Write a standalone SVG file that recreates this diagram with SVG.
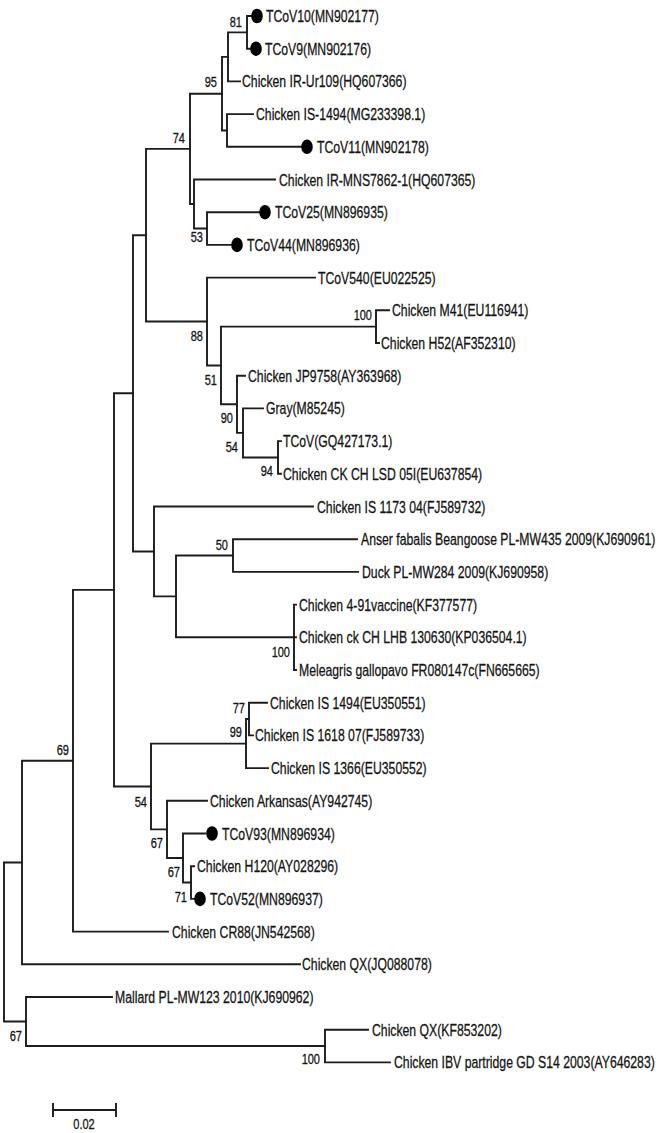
<svg xmlns="http://www.w3.org/2000/svg" width="663" height="1133" viewBox="0 0 663 1133">
<style>
.br{fill:none;stroke:#1c1c1c;stroke-width:1.9;stroke-linecap:square}
.lbl{font-family:"Liberation Sans",Arial,sans-serif;font-size:17px;fill:#141414;stroke:#141414;stroke-width:0.3}
.bs{font-family:"Liberation Sans",Arial,sans-serif;font-size:14.5px;fill:#141414;stroke:#141414;stroke-width:0.3;text-anchor:end}
.sc{font-family:"Liberation Sans",Arial,sans-serif;font-size:14.5px;fill:#141414;stroke:#141414;stroke-width:0.3;text-anchor:middle}
.dot{fill:#000}
</style>
<rect width="663" height="1133" fill="#fff"/>
<g id="connectors">
<path class="br" d="M4,862.5V1021.5M4,862.5H22M4,1021.5H26"/>
<path class="br" d="M22,760.75V964.3M22,760.75H73M22,964.3H300"/>
<path class="br" d="M73,589.9V931.6M73,589.9H114M73,931.6H168"/>
<path class="br" d="M114,393.3V786.5M114,393.3H133M114,786.5H151"/>
<path class="br" d="M133,235.2V551.45M133,235.2H146M133,551.45H154"/>
<path class="br" d="M146,148.85V321.55M146,148.85H190M146,321.55H207"/>
<path class="br" d="M190,93.7V204M190,93.7H222M190,204H194"/>
<path class="br" d="M222,56.9V130.45M222,56.9H228M222,130.45H227"/>
<path class="br" d="M228,32.35V81.4M228,32.35H247M228,81.4H240"/>
<path class="br" d="M247,16V48.7M247,16H251M247,48.7H251"/>
<path class="br" d="M227,114.1V146.8M227,114.1H253M227,146.8H301"/>
<path class="br" d="M194,179.5V228.55M194,179.5H275M194,228.55H207"/>
<path class="br" d="M207,212.2V244.9M207,212.2H259M207,244.9H231"/>
<path class="br" d="M207,277.6V365.5M207,277.6H315M207,365.5H221"/>
<path class="br" d="M221,326.65V404.3M221,326.65H376M221,404.3H237"/>
<path class="br" d="M376,310.3V343M376,310.3H389M376,343H379"/>
<path class="br" d="M237,375.7V432.9M237,375.7H245M237,432.9H243"/>
<path class="br" d="M243,408.4V457.45M243,408.4H263M243,457.45H278"/>
<path class="br" d="M278,441.1V473.8M278,441.1H281M278,473.8H281"/>
<path class="br" d="M154,506.5V596.4M154,506.5H313M154,596.4H176"/>
<path class="br" d="M176,555.55V637.3M176,555.55H233M176,637.3H294"/>
<path class="br" d="M233,539.2V571.9M233,539.2H357M233,571.9H358"/>
<path class="br" d="M294,604.6V670M294,604.6H296M294,637.3H296M294,670H296"/>
<path class="br" d="M151,743.6V829.4M151,743.6H246M151,829.4H167"/>
<path class="br" d="M246,719.05V768.1M246,719.05H249M246,768.1H268"/>
<path class="br" d="M249,702.7V735.4M249,702.7H267M249,735.4H253"/>
<path class="br" d="M167,800.8V858M167,800.8H207M167,858H183"/>
<path class="br" d="M183,833.5V882.55M183,833.5H205M183,882.55H191"/>
<path class="br" d="M191,866.2V898.9M191,866.2H194M191,898.9H194"/>
<path class="br" d="M26,997V1046.05M26,997H112M26,1046.05H325"/>
<path class="br" d="M325,1029.7V1062.4M325,1029.7H368M325,1062.4H390"/>
</g>
<g id="leaf-TCoV10"><ellipse class="dot" cx="257" cy="16" rx="5.8" ry="7.3"/><text class="lbl" transform="translate(266,22) scale(0.72,1)">TCoV10(MN902177)</text></g>
<g id="leaf-TCoV9"><ellipse class="dot" cx="256" cy="48.7" rx="5.8" ry="7.3"/><text class="lbl" transform="translate(265,54.7) scale(0.72,1)">TCoV9(MN902176)</text></g>
<g id="leaf-IR-Ur109"><text class="lbl" transform="translate(242,87.4) scale(0.72,1)">Chicken IR-Ur109(HQ607366)</text></g>
<g id="leaf-IS-1494-MG"><text class="lbl" transform="translate(256,120.1) scale(0.72,1)">Chicken IS-1494(MG233398.1)</text></g>
<g id="leaf-TCoV11"><ellipse class="dot" cx="307" cy="146.8" rx="5.8" ry="7.3"/><text class="lbl" transform="translate(317,152.8) scale(0.72,1)">TCoV11(MN902178)</text></g>
<g id="leaf-IR-MNS"><text class="lbl" transform="translate(279,185.5) scale(0.72,1)">Chicken IR-MNS7862-1(HQ607365)</text></g>
<g id="leaf-TCoV25"><ellipse class="dot" cx="265" cy="212.2" rx="5.8" ry="7.3"/><text class="lbl" transform="translate(275,218.2) scale(0.72,1)">TCoV25(MN896935)</text></g>
<g id="leaf-TCoV44"><ellipse class="dot" cx="237" cy="244.9" rx="5.8" ry="7.3"/><text class="lbl" transform="translate(247,250.9) scale(0.72,1)">TCoV44(MN896936)</text></g>
<g id="leaf-TCoV540"><text class="lbl" transform="translate(318,283.6) scale(0.72,1)">TCoV540(EU022525)</text></g>
<g id="leaf-M41"><text class="lbl" transform="translate(392,316.3) scale(0.72,1)">Chicken M41(EU116941)</text></g>
<g id="leaf-H52"><text class="lbl" transform="translate(381,349) scale(0.72,1)">Chicken H52(AF352310)</text></g>
<g id="leaf-JP9758"><text class="lbl" transform="translate(248,381.7) scale(0.72,1)">Chicken JP9758(AY363968)</text></g>
<g id="leaf-Gray"><text class="lbl" transform="translate(266,414.4) scale(0.72,1)">Gray(M85245)</text></g>
<g id="leaf-TCoV-GQ"><text class="lbl" transform="translate(283,447.1) scale(0.72,1)">TCoV(GQ427173.1)</text></g>
<g id="leaf-CK-CH-LSD"><text class="lbl" transform="translate(283,479.8) scale(0.72,1)">Chicken CK CH LSD 05I(EU637854)</text></g>
<g id="leaf-IS1173"><text class="lbl" transform="translate(317,512.5) scale(0.72,1)">Chicken IS 1173 04(FJ589732)</text></g>
<g id="leaf-Anser"><text class="lbl" transform="translate(361,545.2) scale(0.72,1)">Anser fabalis Beangoose PL-MW435 2009(KJ690961)</text></g>
<g id="leaf-Duck"><text class="lbl" transform="translate(362,577.9) scale(0.72,1)">Duck PL-MW284 2009(KJ690958)</text></g>
<g id="leaf-4-91"><text class="lbl" transform="translate(299,610.6) scale(0.72,1)">Chicken 4-91vaccine(KF377577)</text></g>
<g id="leaf-LHB"><text class="lbl" transform="translate(299,643.3) scale(0.72,1)">Chicken ck CH LHB 130630(KP036504.1)</text></g>
<g id="leaf-Meleagris"><text class="lbl" transform="translate(299,676) scale(0.72,1)">Meleagris gallopavo FR080147c(FN665665)</text></g>
<g id="leaf-IS1494-EU"><text class="lbl" transform="translate(270,708.7) scale(0.72,1)">Chicken IS 1494(EU350551)</text></g>
<g id="leaf-IS1618"><text class="lbl" transform="translate(255,741.4) scale(0.72,1)">Chicken IS 1618 07(FJ589733)</text></g>
<g id="leaf-IS1366"><text class="lbl" transform="translate(271,774.1) scale(0.72,1)">Chicken IS 1366(EU350552)</text></g>
<g id="leaf-Arkansas"><text class="lbl" transform="translate(210,806.8) scale(0.72,1)">Chicken Arkansas(AY942745)</text></g>
<g id="leaf-TCoV93"><ellipse class="dot" cx="212" cy="833.5" rx="5.8" ry="7.3"/><text class="lbl" transform="translate(222,839.5) scale(0.72,1)">TCoV93(MN896934)</text></g>
<g id="leaf-H120"><text class="lbl" transform="translate(197,872.2) scale(0.72,1)">Chicken H120(AY028296)</text></g>
<g id="leaf-TCoV52"><ellipse class="dot" cx="200" cy="898.9" rx="5.8" ry="7.3"/><text class="lbl" transform="translate(210,904.9) scale(0.72,1)">TCoV52(MN896937)</text></g>
<g id="leaf-CR88"><text class="lbl" transform="translate(172,937.6) scale(0.72,1)">Chicken CR88(JN542568)</text></g>
<g id="leaf-QX-JQ"><text class="lbl" transform="translate(302,970.3) scale(0.72,1)">Chicken QX(JQ088078)</text></g>
<g id="leaf-Mallard"><text class="lbl" transform="translate(115,1003) scale(0.72,1)">Mallard PL-MW123 2010(KJ690962)</text></g>
<g id="leaf-QX-KF"><text class="lbl" transform="translate(372,1035.7) scale(0.72,1)">Chicken QX(KF853202)</text></g>
<g id="leaf-IBV"><text class="lbl" transform="translate(394,1068.4) scale(0.72,1)">Chicken IBV partridge GD S14 2003(AY646283)</text></g>
<g id="node-81"><text class="bs" transform="translate(242,27) scale(0.76,1)">81</text></g>
<g id="node-95"><text class="bs" transform="translate(217,87) scale(0.76,1)">95</text></g>
<g id="node-74"><text class="bs" transform="translate(185,143) scale(0.76,1)">74</text></g>
<g id="node-53"><text class="bs" transform="translate(203,242) scale(0.76,1)">53</text></g>
<g id="node-88"><text class="bs" transform="translate(203,341) scale(0.76,1)">88</text></g>
<g id="node-100a"><text class="bs" transform="translate(372,320) scale(0.76,1)">100</text></g>
<g id="node-51"><text class="bs" transform="translate(217,385) scale(0.76,1)">51</text></g>
<g id="node-90"><text class="bs" transform="translate(233,423) scale(0.76,1)">90</text></g>
<g id="node-54a"><text class="bs" transform="translate(238,452) scale(0.76,1)">54</text></g>
<g id="node-94"><text class="bs" transform="translate(273,476) scale(0.76,1)">94</text></g>
<g id="node-50"><text class="bs" transform="translate(228,550) scale(0.76,1)">50</text></g>
<g id="node-100b"><text class="bs" transform="translate(290,657) scale(0.76,1)">100</text></g>
<g id="node-77"><text class="bs" transform="translate(245,713) scale(0.76,1)">77</text></g>
<g id="node-99"><text class="bs" transform="translate(242,737) scale(0.76,1)">99</text></g>
<g id="node-69"><text class="bs" transform="translate(69,755) scale(0.76,1)">69</text></g>
<g id="node-54b"><text class="bs" transform="translate(147,807) scale(0.76,1)">54</text></g>
<g id="node-67a"><text class="bs" transform="translate(163,848) scale(0.76,1)">67</text></g>
<g id="node-67b"><text class="bs" transform="translate(180,877) scale(0.76,1)">67</text></g>
<g id="node-71"><text class="bs" transform="translate(187,902) scale(0.76,1)">71</text></g>
<g id="node-67c"><text class="bs" transform="translate(22,1041) scale(0.76,1)">67</text></g>
<g id="node-100c"><text class="bs" transform="translate(320,1064) scale(0.76,1)">100</text></g>
<g id="scale-bar">
<path class="br" d="M53,1110H116M53,1104V1116M116,1104V1116"/>
<text class="sc" transform="translate(84,1129) scale(0.76,1)">0.02</text>
</g>
</svg>
